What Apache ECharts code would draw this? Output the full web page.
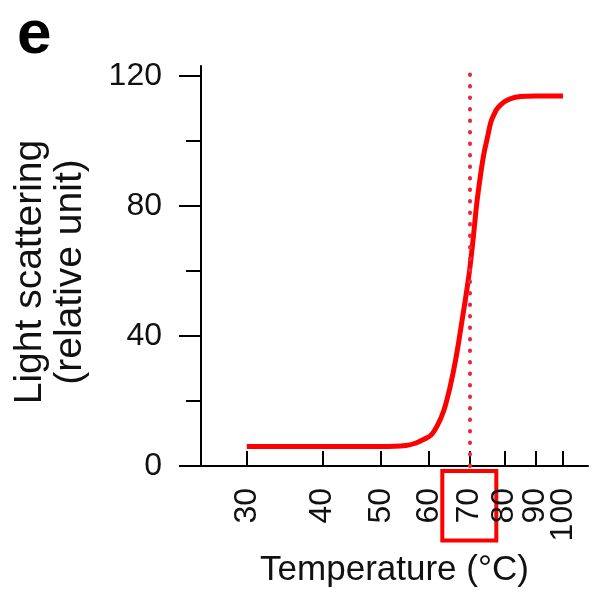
<!DOCTYPE html>
<html>
<head>
<meta charset="utf-8">
<script src="https://cdn.jsdelivr.net/npm/echarts@6/dist/echarts.min.js"></script>
<style>
  html, body { margin: 0; padding: 0; background: #fff; }
  #chart { width: 593px; height: 593px; }
</style>
</head>
<body>
<div id="chart"></div>
<script>
// temperature (°C) and light scattering
const temps = [30, 40, 50, 55, 57, 59, 60.5, 62, 63.5, 65, 66.5, 68, 69, 70, 71, 72, 73, 74, 75, 76, 77, 78, 80, 82, 85, 90, 95, 100];
const scattering = [6, 6, 6, 6.3, 7, 8.3, 9.5, 12.5, 17, 24, 33, 44, 51.5, 59.5, 69.5, 80.5, 89, 96, 101, 105.8, 108.3, 110.1, 112, 113, 113.6, 113.8, 113.8, 113.8];

const tempTicks = [30, 40, 50, 60, 70, 80, 90, 100];
const yMajorTicks = [0, 40, 80, 120];
const yMinorTicks = [20, 60, 100];
const markedTemp = 70;
const tempRange = [25.2, 110];
const yRange = [0, 123];

// x axis is logarithmic in temperature
const lg = Math.log10;
const font = 'Liberation Sans, Arial, Helvetica, sans-serif';

// an empty label at the axis end keeps the 90/100 pair from being thinned out
const labelValues = tempTicks.map(lg).concat([lg(tempRange[1])]);

const chart = echarts.init(document.getElementById('chart'));
chart.setOption({
  animation: false,
  textStyle: { fontFamily: font, color: '#111' },
  title: {
    text: 'e',
    left: 12,
    top: 0,
    textStyle: { fontSize: 62, fontWeight: 'bold', color: '#000', fontFamily: font }
  },
  grid: { left: 201, right: 5, top: 66, bottom: 125 },
  xAxis: {
    type: 'value',
    min: lg(tempRange[0]),
    max: lg(tempRange[1]),
    name: 'Temperature (°C)',
    nameLocation: 'middle',
    nameGap: 87,
    nameTextStyle: { fontSize: 35, color: '#111', fontFamily: font },
    axisLine: { show: true, lineStyle: { color: '#000', width: 2 } },
    axisTick: {
      show: true,
      inside: true,
      length: 15,
      customValues: tempTicks.map(lg),
      lineStyle: { color: '#000', width: 2 }
    },
    axisLabel: {
      customValues: labelValues,
      rotate: 90,
      margin: 5,
      hideOverlap: false,
      formatter: function (v) {
        const t = Math.round(Math.pow(10, v));
        if (tempTicks.indexOf(t) < 0) return '';
        return t === markedTemp ? '{box|' + t + '}' : '{plain|' + t + '}';
      },
      rich: {
        plain: { fontSize: 32, lineHeight: 24, color: '#111', fontFamily: font, padding: [0, 17, 0, 0] },
        box: { fontSize: 32, lineHeight: 24, color: '#111', fontFamily: font, padding: [11, 17, 11, 17],
               borderColor: '#ff0000', borderWidth: 4 }
      }
    },
    splitLine: { show: false }
  },
  yAxis: [{
    type: 'value',
    min: yRange[0],
    max: yRange[1],
    name: 'Light scattering\n(relative unit)',
    nameLocation: 'middle',
    nameGap: 111,
    nameTextStyle: { fontSize: 39, lineHeight: 40, color: '#111', fontFamily: font, padding: [0, 12, 0, 0] },
    axisLine: { show: true, lineStyle: { color: '#000', width: 2 } },
    axisTick: {
      show: true,
      length: 22,
      customValues: yMajorTicks,
      lineStyle: { color: '#000', width: 2 }
    },
    axisLabel: {
      customValues: yMajorTicks,
      margin: 39,
      fontSize: 32,
      color: '#111',
      fontFamily: font
    },
    splitLine: { show: false }
  }, {
    // minor ticks only
    type: 'value',
    position: 'left',
    min: yRange[0],
    max: yRange[1],
    axisLine: { show: false },
    axisTick: {
      show: true,
      length: 15,
      customValues: yMinorTicks,
      lineStyle: { color: '#000', width: 2 }
    },
    axisLabel: { show: false },
    splitLine: { show: false }
  }],
  series: [{
    type: 'line',
    data: temps.map((t, i) => [lg(t), scattering[i]]),
    showSymbol: false,
    smooth: 0.35,
    lineStyle: { color: '#ff0000', width: 5 },
    markLine: {
      silent: true,
      symbol: 'none',
      label: { show: false },
      lineStyle: { color: '#e8283c', width: 4, type: [0.5, 11], cap: 'round' },
      data: [[
        { coord: [lg(markedTemp), 0] },
        { coord: [lg(markedTemp), 120.5] }
      ]]
    }
  }]
});
</script>
</body>
</html>
